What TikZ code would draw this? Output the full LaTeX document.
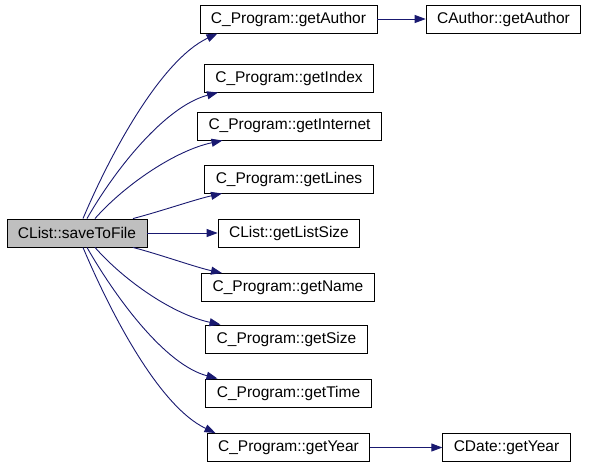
\documentclass[tikz,border=0pt]{standalone}
\usepackage{fontspec}
\setmainfont{Liberation Sans}
\usepackage{xcolor}
\usepackage{tikz}
\usetikzlibrary{arrows.meta, positioning}
\definecolor{edgeblue}{RGB}{25, 25, 112}
\definecolor{rootgrey}{RGB}{191, 191, 191}

\begin{document}
\begin{tikzpicture}[
    x=1pt, y=-1pt,
    func/.style={rectangle, draw=black, fill=white, line width=0.9pt, minimum height=28pt, inner xsep=11pt, inner ysep=0pt, font=\fontsize{15.5}{18}\selectfont},
    root/.style={func, fill=rootgrey},
    arrow/.style={line width=0.9pt, color=edgeblue, -{Triangle[length=11pt, width=8pt]}}
]
    \useasboundingbox (0,0) rectangle (589,467);

    \node[root] (save) at (77,233) {CList::saveToFile};
    \node[func] (author) at (288.5,19) {C\_Program::getAuthor};
    \node[func] (cauthor) at (503.5,19) {CAuthor::getAuthor};
    \node[func] (index) at (289,78) {C\_Program::getIndex};
    \node[func] (internet) at (289.5,126) {C\_Program::getInternet};
    \node[func] (lines) at (289,179) {C\_Program::getLines};
    \node[func] (listsize) at (289,233) {CList::getListSize};
    \node[func] (name) at (288,287.5) {C\_Program::getName};
    \node[func] (size) at (286.5,339) {C\_Program::getSize};
    \node[func] (time) at (288.5,393) {C\_Program::getTime};
    \node[func] (year) at (288.5,447.5) {C\_Program::getYear};
    \node[func] (cdate) at (506.5,447.5) {CDate::getYear};

    % calls going up
    \draw[arrow] ([xshift=6pt]save.north) .. controls +(27,-64) and +(-57,27) .. ([xshift=-71pt]author.south);
    \draw[arrow] ([xshift=10pt]save.north) .. controls +(28,-49) and +(-53,14) .. ([xshift=-71pt]index.south);
    \draw[arrow] ([xshift=18pt]save.north) .. controls +(30,-34) and +(-47,10) .. ([xshift=-67pt]internet.south);
    \draw[arrow] ([xshift=56pt]save.north) .. controls +(27,-7) and +(-27,6) .. ([xshift=-67pt]lines.south);
    \draw[arrow] (save) -- (listsize);
    % calls going down
    \draw[arrow] ([xshift=56pt]save.south) .. controls +(27,7) and +(-27,-6) .. ([xshift=-66pt]name.north);
    \draw[arrow] ([xshift=18pt]save.south) .. controls +(30,34) and +(-47,-10) .. ([xshift=-66pt]size.north);
    \draw[arrow] ([xshift=10pt]save.south) .. controls +(28,49) and +(-53,-14) .. ([xshift=-71pt]time.north);
    \draw[arrow] ([xshift=6pt]save.south) .. controls +(27,64) and +(-57,-27) .. ([xshift=-73pt]year.north);

    \draw[arrow] (author) -- (cauthor);
    \draw[arrow] (year) -- (cdate);
\end{tikzpicture}
\end{document}
